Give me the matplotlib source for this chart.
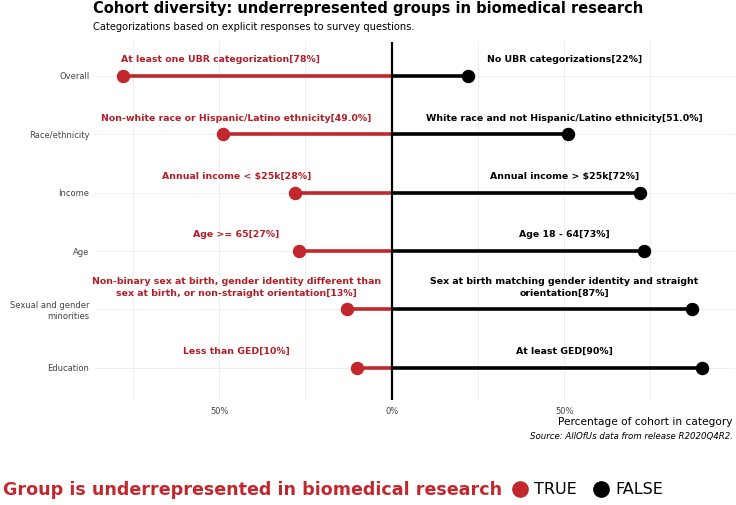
import numpy as np
import matplotlib.pyplot as plt
from matplotlib.lines import Line2D

plt.rcParams['font.family'] = ['DejaVu Sans']

categories = ['Overall', 'Race/ethnicity', 'Income', 'Age',
              'Sexual and gender\nminorities', 'Education']
ubr_pct = [78, 49.0, 28, 27, 13, 10]
non_ubr_pct = [22, 51.0, 72, 73, 87, 90]
ubr_labels = ['At least one UBR categorization[78%]',
              'Non-white race or Hispanic/Latino ethnicity[49.0%]',
              'Annual income < $25k[28%]',
              'Age >= 65[27%]',
              'Non-binary sex at birth, gender identity different than\n'
              'sex at birth, or non-straight orientation[13%]',
              'Less than GED[10%]']
non_ubr_labels = ['No UBR categorizations[22%]',
                  'White race and not Hispanic/Latino ethnicity[51.0%]',
                  'Annual income > $25k[72%]',
                  'Age 18 - 64[73%]',
                  'Sex at birth matching gender identity and straight\n'
                  'orientation[87%]',
                  'At least GED[90%]']

RED = '#c1272d'
LABEL_RED = '#b21f27'
BLACK = '#000000'

fig = plt.figure(figsize=(7.36, 5.05), dpi=100)
ax = fig.add_axes([95 / 736, 1 - 400 / 505, 640 / 736, 358 / 505])

ypos = np.arange(len(categories))
for y, t, f in zip(ypos, ubr_pct, non_ubr_pct):
    ax.plot([-t, 0], [y, y], color=RED, lw=2.6, solid_capstyle='butt', zorder=2)
    ax.plot([0, f], [y, y], color=BLACK, lw=2.6, solid_capstyle='butt', zorder=2)
ax.scatter([-v for v in ubr_pct], ypos, s=75, color=RED, zorder=3)
ax.scatter(non_ubr_pct, ypos, s=75, color=BLACK, zorder=3)
ax.axvline(0, color='black', lw=1.6, zorder=4)

left_x = [-49.5, -45, -45, -45, -45, -45]
for y, lx, txt in zip(ypos, left_x, ubr_labels):
    ax.text(lx, y - 0.2, txt, ha='center', va='bottom', color=LABEL_RED,
            fontsize=6.75, fontweight='bold', linespacing=1.35)
for y, txt in zip(ypos, non_ubr_labels):
    ax.text(50, y - 0.2, txt, ha='center', va='bottom', color=BLACK,
            fontsize=6.75, fontweight='bold', linespacing=1.35)

ax.set_xlim(-86, 99.5)
ax.set_ylim(5.55, -0.58)
ax.set_xticks([-50, 0, 50])
ax.set_xticklabels(['50%', '0%', '50%'])
ax.set_xticks([-75, -25, 25, 75], minor=True)
ax.set_yticks(ypos)
ax.set_yticklabels(categories)
ax.tick_params(axis='both', which='both', length=0, labelsize=6, colors='#444444', pad=4)
ax.tick_params(axis='x', pad=5)
ax.grid(True, which='both', color='#ebebeb', lw=0.6)
ax.set_axisbelow(True)
for s in ax.spines.values():
    s.set_visible(False)

fig.text(93 / 736, 1 - 9 / 505, 'Cohort diversity: underrepresented groups in biomedical research',
         fontsize=10.5, fontweight='bold', ha='left', va='center')
fig.text(93 / 736, 1 - 27 / 505, 'Categorizations based on explicit responses to survey questions.',
         fontsize=7.1, ha='left', va='center')
fig.text(733 / 736, 1 - 422 / 505, 'Percentage of cohort in category',
         fontsize=7.6, ha='right', va='center')
fig.text(733 / 736, 1 - 436 / 505, 'Source: AllOfUs data from release R2020Q4R2.',
         fontsize=6.25, style='italic', ha='right', va='center')

handles = [Line2D([], [], marker='o', ls='', color=RED, markersize=11, label='TRUE'),
           Line2D([], [], marker='o', ls='', color=BLACK, markersize=11, label='FALSE')]
fig.text(3 / 736, 1 - 490 / 505, 'Group is underrepresented in biomedical research',
         fontsize=12.6, fontweight='bold', color=RED, ha='left', va='center')
fig.legend(handles=handles, loc='center left', bbox_to_anchor=(510 / 736, 1 - 490 / 505),
           ncol=2, frameon=False, fontsize=11.5, handletextpad=0.3, columnspacing=0.9,
           handlelength=1.2, borderaxespad=0, borderpad=0)

fig.savefig('out.png', dpi=100)
